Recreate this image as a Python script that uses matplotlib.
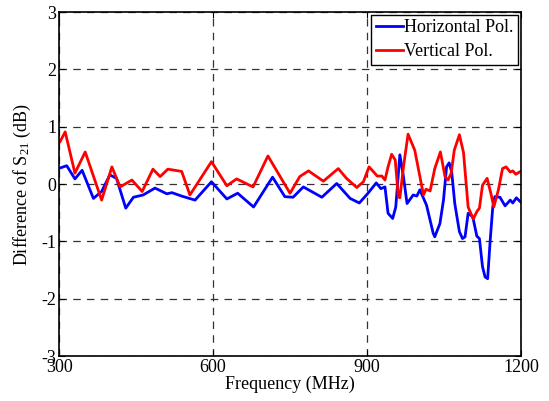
import matplotlib
matplotlib.use("Agg")
import matplotlib.pyplot as plt

plt.rcParams['font.family'] = ['Liberation Serif', 'DejaVu Serif']
plt.rcParams['mathtext.fontset'] = 'custom'
plt.rcParams['mathtext.rm'] = 'Liberation Serif'
plt.rcParams['mathtext.it'] = 'Liberation Serif:italic'
plt.rcParams['axes.unicode_minus'] = False

# (frequency MHz, dB)
h_freq = [302, 315, 331, 345, 367, 383, 399, 412, 430, 445, 464, 487, 510, 520,
          539, 565, 597, 627, 648, 679, 716, 740, 756, 776, 812, 841, 867, 885,
          901, 918, 927, 935, 941, 950, 956, 964, 971, 978, 990, 997, 1003, 1016,
          1029, 1032, 1042, 1049, 1055, 1060, 1065, 1071, 1080, 1086, 1091, 1097,
          1106, 1114, 1119, 1125, 1130, 1135, 1140, 1145, 1149, 1159, 1169, 1179,
          1184, 1191, 1199]
h_val = [0.28, 0.32, 0.09, 0.24, -0.25, -0.13, 0.16, 0.10, -0.42, -0.23, -0.19,
         -0.07, -0.17, -0.15, -0.21, -0.28, 0.04, -0.26, -0.16, -0.40, 0.12, -0.22,
         -0.23, -0.05, -0.23, 0.01, -0.25, -0.33, -0.17, 0.02, -0.08, -0.05, -0.51,
         -0.60, -0.40, 0.51, 0.13, -0.34, -0.19, -0.21, -0.10, -0.37, -0.86, -0.92,
         -0.69, -0.28, 0.30, 0.37, 0.21, -0.34, -0.83, -0.95, -0.92, -0.51, -0.57,
         -0.91, -0.95, -1.44, -1.62, -1.65, -0.98, -0.40, -0.22, -0.23, -0.38,
         -0.28, -0.33, -0.24, -0.31]

v_freq = [302, 312, 331, 351, 383, 403, 419, 442, 462, 483, 497, 512, 539, 555,
          597, 627, 646, 678, 707, 750, 769, 786, 815, 844, 860, 880, 893, 904,
          920, 929, 935, 941, 948, 955, 961, 964, 971, 980, 993, 1010, 1015, 1023,
          1032, 1043, 1052, 1058, 1064, 1070, 1080, 1088, 1097, 1107, 1114, 1119,
          1125, 1134, 1142, 1147, 1156, 1164, 1171, 1179, 1184, 1190, 1197, 1200]
v_val = [0.74, 0.91, 0.19, 0.56, -0.28, 0.30, -0.05, 0.07, -0.13, 0.26, 0.13,
         0.26, 0.22, -0.19, 0.39, -0.03, 0.09, -0.05, 0.49, -0.16, 0.13, 0.23,
         0.05, 0.27, 0.10, -0.06, 0.04, 0.30, 0.14, 0.14, 0.07, 0.30, 0.52, 0.42,
         -0.22, -0.24, 0.30, 0.87, 0.59, -0.19, -0.09, -0.12, 0.27, 0.56, 0.13,
         0.07, 0.19, 0.59, 0.86, 0.55, -0.40, -0.61, -0.48, -0.42, -0.02, 0.10,
         -0.19, -0.40, -0.10, 0.27, 0.30, 0.21, 0.23, 0.17, 0.21, 0.22]

x_ticks = [300, 600, 900, 1200]
y_ticks = [-3, -2, -1, 0, 1, 2, 3]

fig = plt.figure(figsize=(5.49, 4.01), dpi=100)
ax = fig.add_axes([0.1075, 0.112, 0.8415, 0.858])

ax.plot(h_freq, h_val, color='blue', lw=2, label='Horizontal Pol.')
ax.plot(v_freq, v_val, color='red', lw=2, label='Vertical Pol.')

ax.set_xlim(300, 1200)
ax.set_ylim(-3, 3)
ax.set_xticks(x_ticks)
ax.set_yticks(y_ticks)
ax.grid(True, color='#333333', linestyle=(0, (6, 5)), linewidth=0.9)
ax.tick_params(direction='in', top=True, right=True, labelsize=13, length=4, pad=2)
for s in ax.spines.values():
    s.set_linewidth(1.2)

ax.set_xlabel('Frequency (MHz)', fontsize=13, labelpad=0)
ax.set_ylabel('Difference of S$_{21}$ (dB)', fontsize=13, labelpad=6)

leg = ax.legend(loc='upper right', fontsize=13, borderaxespad=0.15, fancybox=False,
                framealpha=1, edgecolor='black', handlelength=1.5,
                handletextpad=0.1, borderpad=0.25, labelspacing=0.4)
leg.get_frame().set_linewidth(1.0)

fig.savefig('out.png', dpi=100)
